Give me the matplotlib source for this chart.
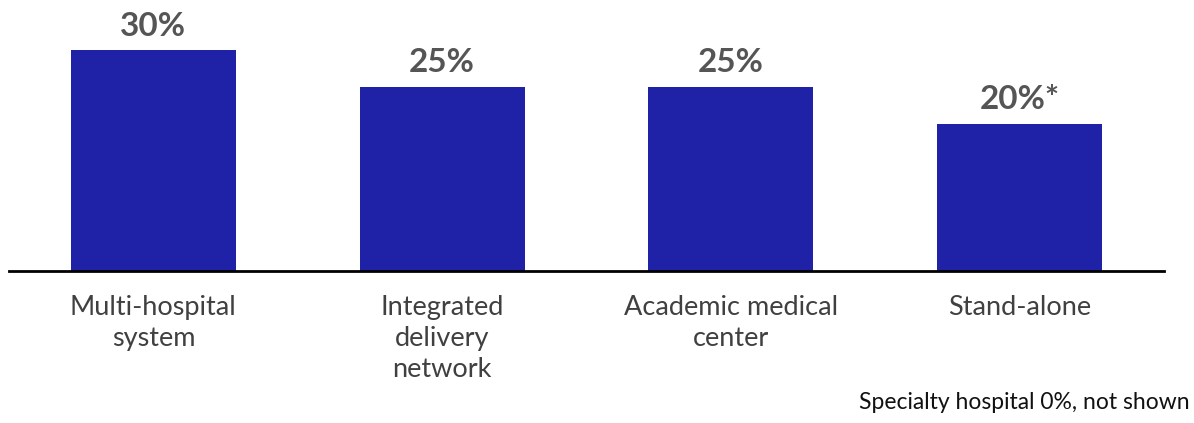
import matplotlib
matplotlib.use("Agg")
import matplotlib.pyplot as plt

# hospital type survey
categories = ["Multi-hospital\nsystem", "Integrated\ndelivery\nnetwork",
              "Academic medical\ncenter", "Stand-alone"]
values = [30, 25, 25, 20]
value_labels = ["30%", "25%", "25%", "20%*"]
footnote = "Specialty hospital 0%, not shown"

BAR_COLOR = "#1F22A7"
LABEL_GREY = "#555555"
TEXT_GREY = "#404040"

plt.rcParams['font.family'] = ['Lato', 'DejaVu Sans']

W, H = 1194, 423
fig = plt.figure(figsize=(W / 100, H / 100), dpi=100)
# axes placed in pixel terms: left 9, right 1164, baseline at y=271 from top
ax = fig.add_axes([9 / W, (H - 271) / H, 1155 / W, 261 / H])

x = list(range(len(categories)))
ax.bar(x, values, width=0.571, color=BAR_COLOR, zorder=2)

for xi, v, lab in zip(x, values, value_labels):
    ax.annotate(lab, (xi, v), xytext=(0, 7), textcoords="offset points",
                ha="center", va="bottom", fontsize=24, fontweight="bold",
                color=LABEL_GREY)

ax.set_xlim(-0.5, 3.5)
ax.set_ylim(0, 35.5)
for s in ["top", "right", "left"]:
    ax.spines[s].set_visible(False)
ax.spines["bottom"].set_linewidth(2)
ax.spines["bottom"].set_color("black")
ax.set_yticks([])
ax.set_xticks(x)
ax.set_xticklabels(categories, fontsize=19.5, color=TEXT_GREY,
                   fontweight="normal", linespacing=1.32)
ax.tick_params(axis="x", length=0, pad=17)

fig.text(1190 / W, 1 - 409 / H, footnote, ha="right", va="baseline",
         fontsize=16.5, color="#111111")

fig.savefig("out.png", dpi=100)
